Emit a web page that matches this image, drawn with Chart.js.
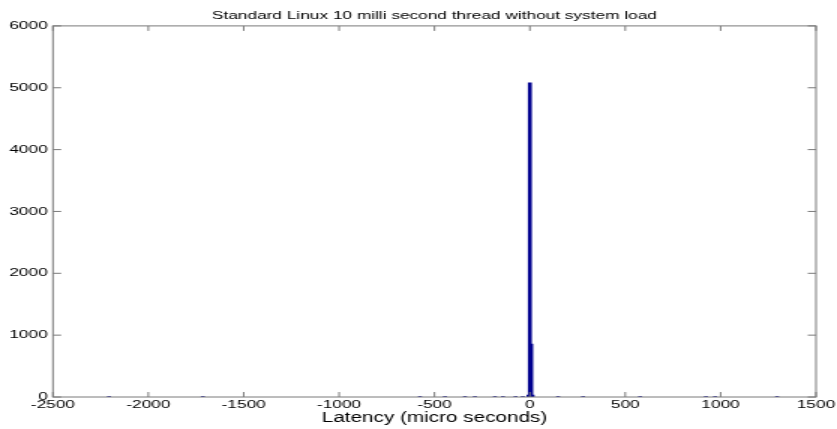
<!DOCTYPE html>
<html>
<head>
<meta charset="utf-8">
<title>Latency histogram</title>
<script src="https://cdn.jsdelivr.net/npm/chart.js@4/dist/chart.umd.min.js"></script>
<style>
  html, body { margin: 0; padding: 0; background: #fff; overflow: hidden; }
  /* the plot is laid out narrow and stretched sideways, like the old screen capture */
  #latencyHist { position: absolute; left: 0; top: 0;
                 transform: scaleX(1.5); transform-origin: 0 0; }
</style>
</head>
<body>
<canvas id="latencyHist" width="558" height="429"></canvas>
<script>
// histogram bins (micro seconds) and their counts
const binCenters = [-2206, -1714, -576, -445, -340, -288, -183, -141, -75, -37, -7, 0, 7, 14, 148, 279, 578, 923, 971, 1296];
const counts     = [8, 8, 8, 8, 8, 8, 8, 8, 8, 8, 30, 5080, 857, 30, 8, 8, 8, 8, 8, 8];

const xTicks = [-2500, -2000, -1500, -1000, -500, 0, 500, 1000, 1500];
const yTicks = [0, 1000, 2000, 3000, 4000, 5000, 6000];

const font = 'Liberation Sans, Arial, Helvetica, sans-serif';
const axisColor = '#7a7a7a';

// box around the plot with inward tick marks on all four sides
const frameTicks = {
  id: 'frameTicks',
  afterDatasetsDraw(chart) {
    const { ctx, chartArea: a, scales: { x, y } } = chart;
    ctx.save();
    ctx.strokeStyle = axisColor;
    ctx.lineWidth = 1;
    ctx.beginPath();
    x.ticks.forEach(t => {
      const px = x.getPixelForValue(t.value);
      ctx.moveTo(px, a.bottom); ctx.lineTo(px, a.bottom - 5);
      ctx.moveTo(px, a.top);    ctx.lineTo(px, a.top + 5);
    });
    y.ticks.forEach(t => {
      const py = y.getPixelForValue(t.value);
      ctx.moveTo(a.left, py);  ctx.lineTo(a.left + 5.5, py);
      ctx.moveTo(a.right, py); ctx.lineTo(a.right - 5.5, py);
    });
    ctx.stroke();
    ctx.strokeRect(a.left, a.top, a.right - a.left, a.bottom - a.top);
    ctx.restore();
  }
};

new Chart(document.getElementById('latencyHist'), {
  type: 'bar',
  data: {
    datasets: [{
      data: binCenters.map((v, i) => ({ x: v, y: counts[i] })),
      backgroundColor: '#00008F',
      borderWidth: 0,
      barThickness: 2,
      grouped: false
    }]
  },
  options: {
    responsive: false,
    animation: false,
    layout: { padding: { left: 0, right: 14, top: 0, bottom: 0 } },
    plugins: {
      legend: { display: false },
      tooltip: { enabled: false },
      title: {
        display: true,
        fullSize: false,   // centred over the plot box, not the whole canvas
        text: 'Standard Linux 10 milli second thread without system load',
        color: '#000',
        font: { family: font, size: 11.5, weight: 'normal' },
        padding: { top: 8.5, bottom: 3.6 }
      }
    },
    scales: {
      x: {
        type: 'linear',
        offset: false,
        min: -2500,
        max: 1500,
        grid: { display: false, drawTicks: false, tickLength: 0 },
        border: { display: false },
        afterBuildTicks: s => { s.ticks = xTicks.map(v => ({ value: v })); },
        afterFit: s => { s.height = 32; },
        ticks: {
          color: '#000',
          padding: 1,
          maxRotation: 0,
          font: { family: font, size: 11.5 },
          callback: v => String(v)
        },
        title: {
          display: true,
          text: 'Latency (micro seconds)',
          color: '#000',
          font: { family: font, size: 13.8 },
          padding: { top: 0, bottom: 3 }
        }
      },
      y: {
        min: 0,
        max: 6000,
        grid: { display: false, drawTicks: false, tickLength: 0 },
        border: { display: false },
        afterBuildTicks: s => { s.ticks = yTicks.map(v => ({ value: v })); },
        afterFit: s => { s.width = 35.3; },
        ticks: {
          color: '#000',
          padding: 3.5,
          font: { family: font, size: 11.5 },
          callback: v => String(v)
        }
      }
    }
  },
  plugins: [frameTicks]
});
</script>
</body>
</html>
